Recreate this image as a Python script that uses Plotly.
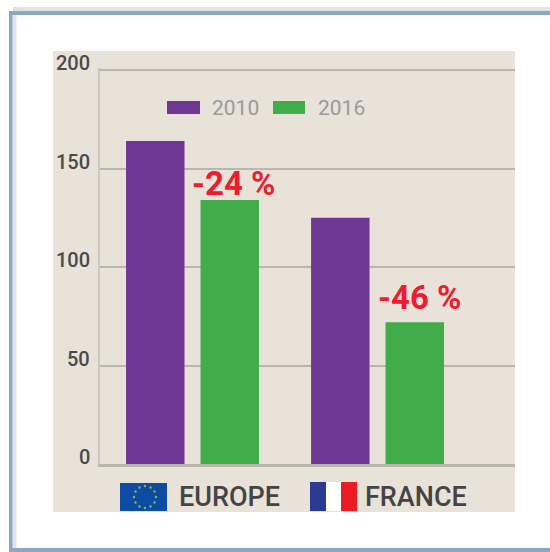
import math
import plotly.graph_objects as go

regions = ["EUROPE", "FRANCE"]
years = ["2010", "2016"]
values_2010 = [164, 125]
values_2016 = [134, 72]
changes = ["-24 %", "-46 %"]
y_ticks = [0, 50, 100, 150, 200]

W, H = 550, 552
PURPLE, GREEN = "#6f3794", "#41ac4a"
GRID = "#b8b6ae"
FONT = "Roboto"

def px(x): return x / W
def py(y): return 1 - y / H

fig = go.Figure()
fig.add_bar(name=years[0], x=regions, y=values_2010, marker_color=PURPLE, marker_line_width=0)
fig.add_bar(name=years[1], x=regions, y=values_2016, marker_color=GREEN, marker_line_width=0)

def rect(x0, y0, x1, y1, color, layer="below"):
    return dict(type="rect", xref="paper", yref="paper", x0=px(x0), x1=px(x1), y0=py(y0), y1=py(y1),
                fillcolor=color, line_width=0, layer=layer)

shapes = [
    rect(13, 7, 550, 11, "#e2e2e2"),
    rect(9, 11, 550, 15, "#8ea6c6"),
    rect(12.5, 15, 16.5, 548, "#e4e4e4"),
    rect(9, 11, 12.5, 552, "#8ea6c6"),
    rect(9, 548, 550, 552, "#8ea6c6"),
    rect(53, 51, 515, 512, "#e8e2d8"),
    # legend swatches
    rect(167, 101, 200, 114, PURPLE, "above"),
    rect(273, 101, 305, 114, GREEN, "above"),
    # EU flag
    rect(120, 483, 167, 511, "#0a4da2", "above"),
    # French flag
    rect(310, 482, 326, 511, "#2b3990", "above"),
    rect(326, 482, 341, 511, "#ffffff", "above"),
    rect(341, 482, 357, 511, "#ed1c24", "above"),
]
for i in range(12):
    a = i * math.pi / 6
    cx, cy = 145 + 11 * math.cos(a), 497 + 11 * math.sin(a)
    shapes.append(dict(type="circle", xref="paper", yref="paper", layer="above",
                       x0=px(cx - 1.2), x1=px(cx + 1.2), y0=py(cy + 1.2), y1=py(cy - 1.2),
                       fillcolor="#a3a84a", line_width=0))

annotations = []
def text(t, x, y, size, color, weight=400, anchor="left"):
    annotations.append(dict(text=t, xref="paper", yref="paper", x=px(x), y=py(y), xanchor=anchor,
                            yanchor="middle", showarrow=False,
                            font=dict(family=FONT, size=size, color=color, weight=weight)))

text(years[0], 210, 108, 21, "#9a9a98")
text(years[1], 316, 108, 21, "#9a9a98")
text(regions[0], 177, 497, 27, "#444444", 500)
text(regions[1], 363, 497, 27, "#444444", 500)

# y tick labels sit a little above their gridlines
for tick in y_ticks:
    annotations.append(dict(text=str(tick), x=px(92), xref="paper", y=tick, yref="y", yshift=7,
                            xanchor="right", yanchor="middle", showarrow=False,
                            font=dict(family=FONT, size=20, color="#4a4a4a", weight=500)))

# change labels, anchored on the green bars
for region, value, change, xs, ys in zip(regions, values_2016, changes, [41, 42], [17, 25]):
    annotations.append(dict(text=change, x=region, y=value, xref="x", yref="y", xshift=xs, yshift=ys,
                            xanchor="center", yanchor="middle", showarrow=False,
                            font=dict(family=FONT, size=33, color="#ed1c2e", weight=700)))

fig.update_layout(
    width=W, height=H, margin=dict(l=0, r=0, t=0, b=0),
    paper_bgcolor="#ffffff", plot_bgcolor="rgba(0,0,0,0)",
    barmode="group", bargap=0.195, bargroupgap=0.215,
    showlegend=False, shapes=shapes, annotations=annotations,
    xaxis=dict(domain=[px(100), px(515)], range=[-0.5, 1.743], showticklabels=False, automargin=False,
               showgrid=False, zeroline=False, ticks="", showline=True, linecolor=GRID, linewidth=3),
    yaxis=dict(domain=[py(464), py(68.03)], range=[0, 201], tickvals=y_ticks, showticklabels=False, automargin=False,
               showgrid=True, gridcolor=GRID, gridwidth=2, zeroline=False,
               showline=True, linecolor="#c9c7c0", linewidth=2, ticks=""),
)

fig.write_html("out.html", config={"displayModeBar": False},
               post_script="document.body.style.margin='0';")
